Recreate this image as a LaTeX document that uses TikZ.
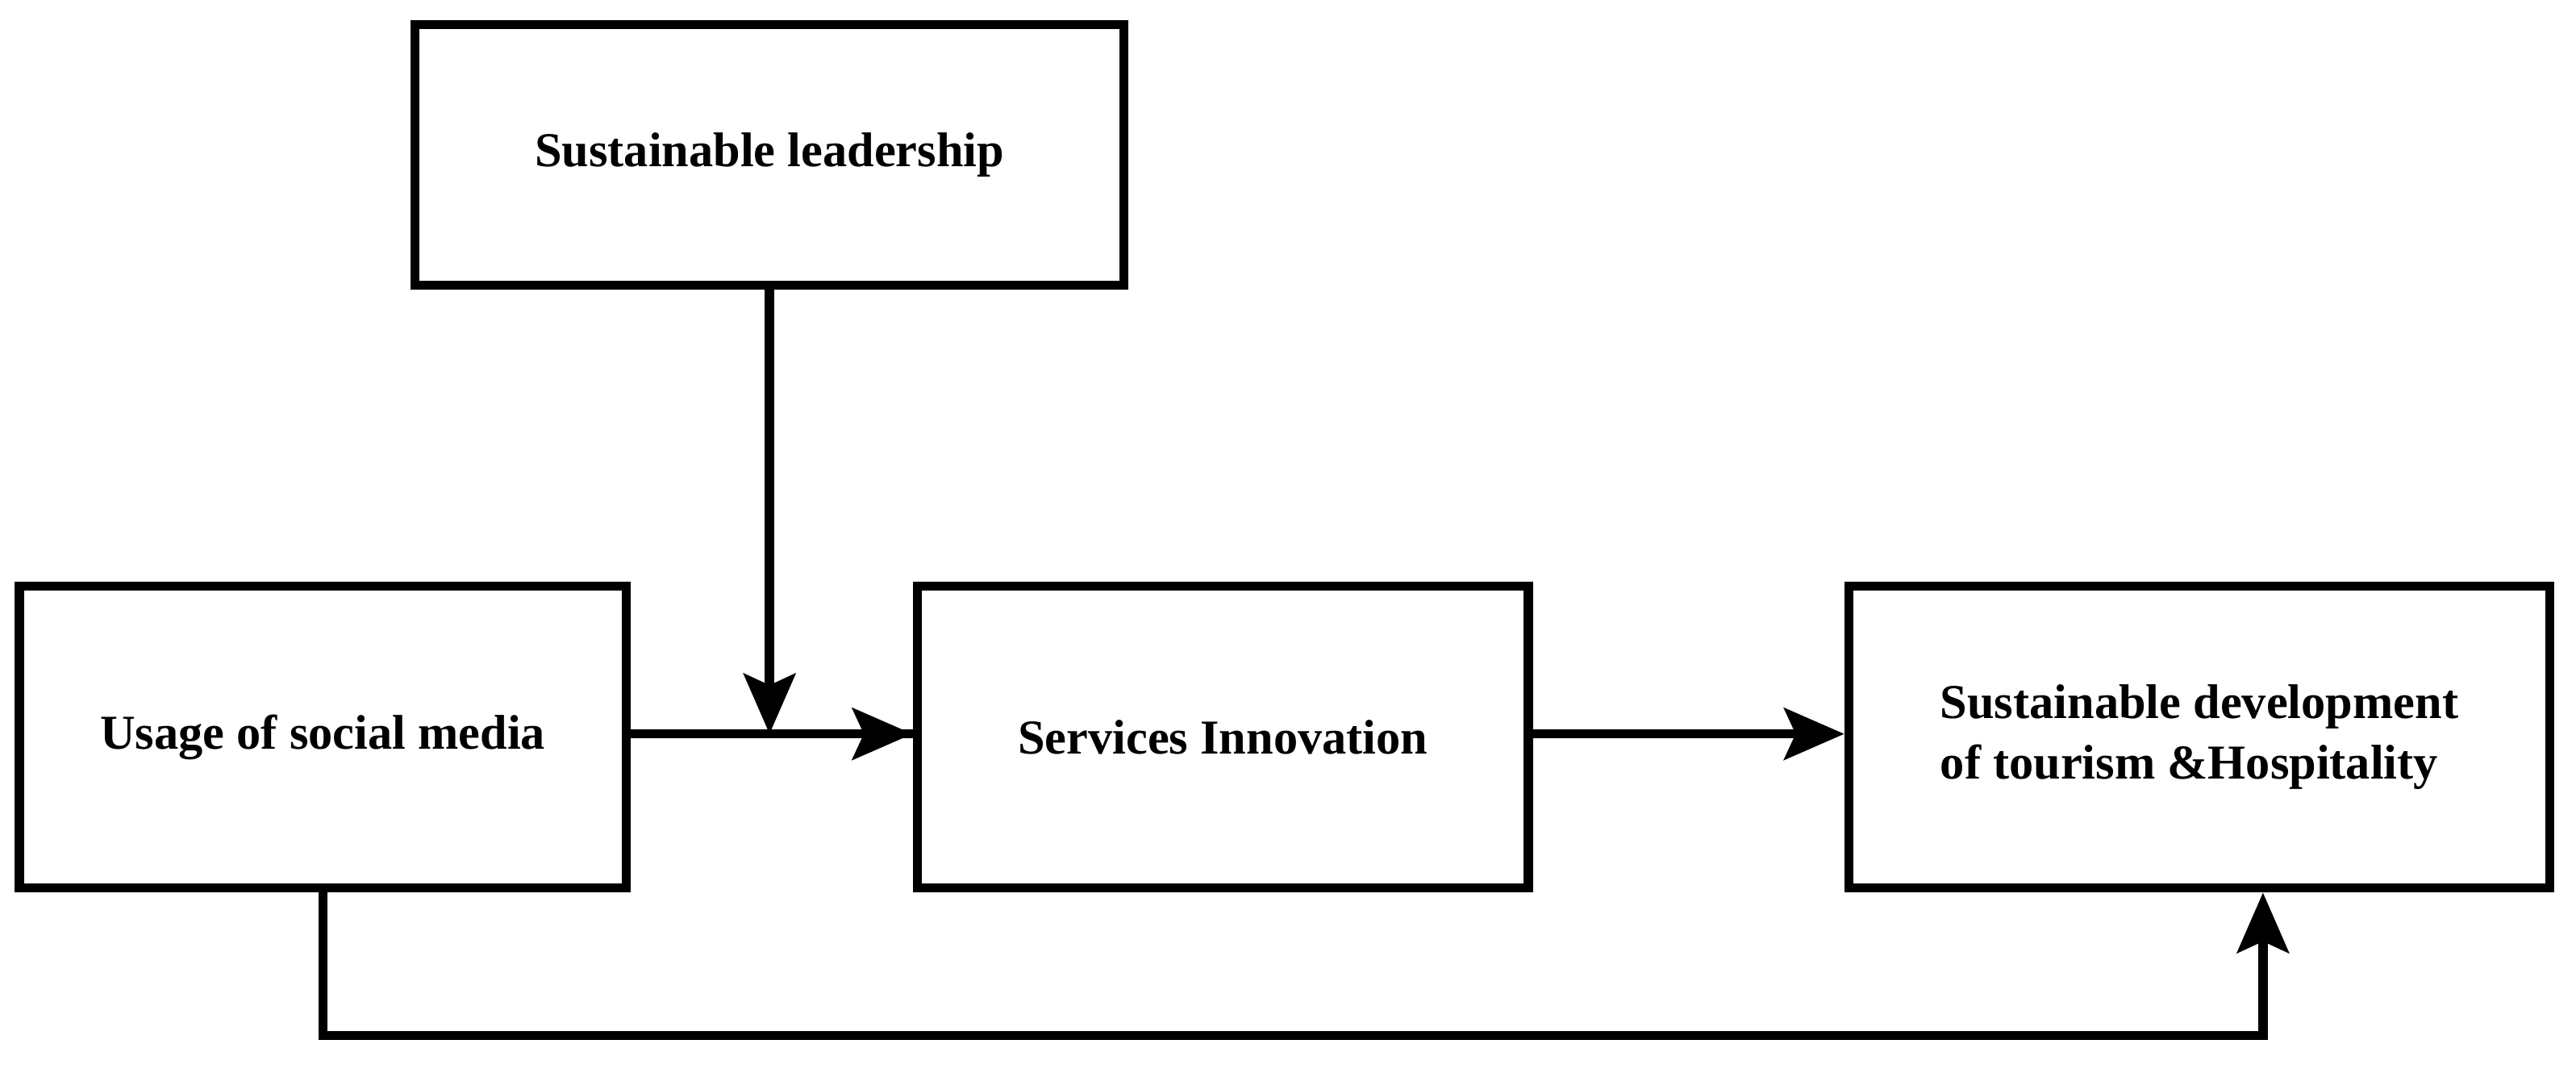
\documentclass[tikz,border=0pt]{standalone}
\usepackage{fontspec}
\setmainfont{Liberation Serif}
\usetikzlibrary{arrows.meta}
\begin{document}
\begin{tikzpicture}[x=0.02cm,y=-0.02cm,
  box/.style={draw,line width=3.2pt,align=center,inner sep=0pt,font=\bfseries\fontsize{17}{21}\selectfont},
  conn/.style={line width=3.2pt,-{Stealth[length=21pt,width=18pt,inset=4pt]}}]
\useasboundingbox (0,0) rectangle (1580,655);
\node[box,minimum width=8.7cm,minimum height=3.2cm] (lead) at (472,95) {Sustainable leadership};
\node[box,minimum width=7.45cm,minimum height=3.7cm] (usage) at (198,452) {Usage of social media};
\node[box,minimum width=7.5cm,minimum height=3.7cm] (serv) at (750,452) {Services Innovation};
\node[box,minimum width=8.6cm,minimum height=3.7cm,align=left] (dev) at (1349,452) {Sustainable development\\of tourism \&Hospitality};
\coordinate (m) at (472,450);
\draw[line width=3.2pt] (usage.east|-m) -- (serv.west|-m);
\draw[conn] (lead.south) -- (m);
\draw[conn] ([xshift=-1.6pt]m) -- (serv.west|-m);
\draw[conn] (serv.east|-m) -- (dev.west|-m);
\coordinate (b1) at (198,635);
\coordinate (b2) at (1388,635);
\draw[conn] (usage.south) -- (b1) -- (b2) -- (dev.south-|b2);
\end{tikzpicture}
\end{document}
